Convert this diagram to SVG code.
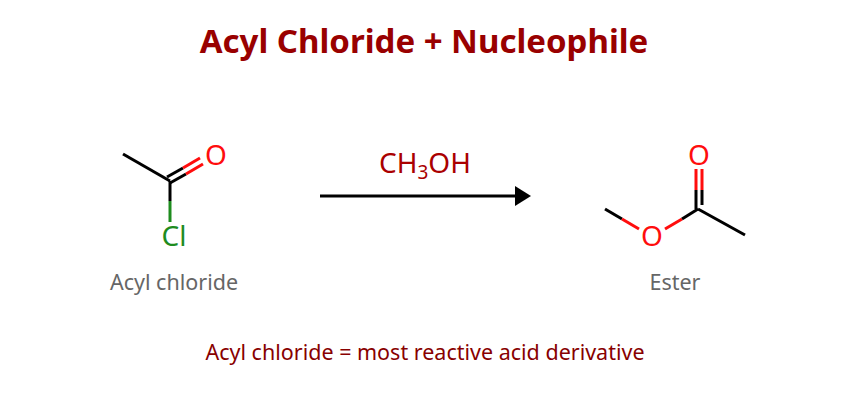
<svg xmlns="http://www.w3.org/2000/svg" width="850" height="400" viewBox="0 0 850 400">
<style>
.b{stroke:#000;stroke-width:3;fill:none}
.r{stroke:#ff0d0d;stroke-width:3;fill:none}
.g{stroke:#1e8c1e;stroke-width:3;fill:none}
.at{font-family:"Noto Sans","DejaVu Sans",sans-serif;font-size:28px;text-anchor:middle}
.lbl{font-family:"Noto Sans","DejaVu Sans",sans-serif;font-size:21.5px;fill:#666;text-anchor:middle}
</style>
<defs><marker id="ah" markerWidth="16" markerHeight="20" refX="0" refY="10" orient="auto" markerUnits="userSpaceOnUse"><path d="M0,0 L16,10 L0,20 Z" fill="#000"/></marker></defs>
<rect width="850" height="400" fill="#fff"/>
<text x="424" y="53" text-anchor="middle" font-family="Noto Sans,DejaVu Sans,sans-serif" font-size="33" font-weight="bold" fill="#990000">Acyl Chloride + Nucleophile</text>
<g id="acyl-chloride">
<line class="b" x1="123" y1="154" x2="170" y2="181"/>
<line class="b" x1="170" y1="183" x2="186" y2="174"/>
<line class="r" x1="186" y1="174" x2="203" y2="164"/>
<line class="b" x1="167" y1="177" x2="183" y2="168"/>
<line class="r" x1="183" y1="168" x2="200" y2="158"/>
<line class="b" x1="170" y1="181" x2="170" y2="201"/>
<line class="g" x1="170" y1="201" x2="170" y2="222"/>
<text class="at" x="216" y="165" fill="#ff0d0d">O</text>
<text class="at" x="174" y="246" fill="#1e8c1e">Cl</text>
<text class="lbl" x="174" y="290">Acyl chloride</text>
</g>
<g id="connectors">
<line x1="320" y1="196" x2="515" y2="196" stroke="#000" stroke-width="3" marker-end="url(#ah)"/>
<text x="425" y="173" text-anchor="middle" font-family="Noto Sans,DejaVu Sans,sans-serif" font-size="28" fill="#aa0000">CH<tspan font-size="19" dy="6">3</tspan><tspan dy="-6">OH</tspan></text>
</g>
<g id="ester">
<line class="b" x1="605" y1="209" x2="622" y2="219"/>
<line class="r" x1="622" y1="219" x2="639" y2="229"/>
<line class="r" x1="665" y1="229" x2="682" y2="219"/>
<line class="b" x1="682" y1="219" x2="698" y2="209"/>
<line class="b" x1="698" y1="209" x2="745" y2="235"/>
<line class="b" x1="696" y1="209" x2="696" y2="190"/>
<line class="r" x1="696" y1="190" x2="696" y2="169"/>
<line class="b" x1="702" y1="205" x2="702" y2="190"/>
<line class="r" x1="702" y1="190" x2="702" y2="169"/>
<text class="at" x="699" y="165" fill="#ff0d0d">O</text>
<text class="at" x="652" y="246" fill="#ff0d0d">O</text>
<text class="lbl" x="675" y="290">Ester</text>
</g>
<text x="425" y="360" text-anchor="middle" font-family="Noto Sans,DejaVu Sans,sans-serif" font-size="21.5" fill="#880000">Acyl chloride = most reactive acid derivative</text>
</svg>
